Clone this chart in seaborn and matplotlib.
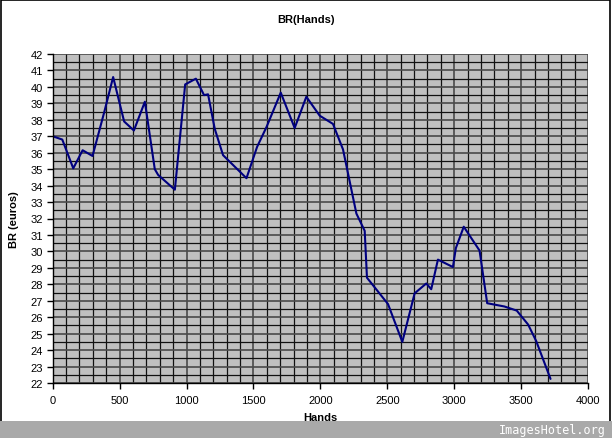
import matplotlib
matplotlib.use("Agg")
import matplotlib.pyplot as plt
import seaborn as sns
import pandas as pd
import numpy as np
from matplotlib.patches import Rectangle
from matplotlib.ticker import MultipleLocator

hands = [0, 72, 154, 224, 298, 385, 452, 534, 607, 689, 763, 788, 913, 990,
         1070, 1131, 1161, 1211, 1273, 1448, 1527, 1597, 1704, 1808, 1895,
         1995, 2094, 2169, 2269, 2331, 2348, 2505, 2612, 2704, 2791, 2828,
         2878, 2990, 3012, 3071, 3189, 3246, 3375, 3467, 3552, 3612, 3719]
br = [37.0, 36.8, 35.05, 36.15, 35.8, 38.45, 40.6, 37.9, 37.35, 39.1, 35.0,
      34.65, 33.75, 40.15, 40.5, 39.5, 39.55, 37.45, 35.85, 34.45, 36.35,
      37.55, 39.65, 37.5, 39.4, 38.25, 37.75, 36.2, 32.3, 31.25, 28.4, 26.8,
      24.5, 27.45, 28.05, 27.7, 29.5, 29.05, 30.2, 31.5, 30.05, 26.85, 26.65,
      26.4, 25.55, 24.55, 22.25]

df = pd.DataFrame({"Hands": hands, "BR": br})

sns.set_theme(style="white")
plt.rcParams["font.family"] = ["Liberation Sans", "DejaVu Sans"]
plt.rcParams["text.color"] = "black"
plt.rcParams["axes.labelcolor"] = "black"
plt.rcParams["xtick.color"] = "black"
plt.rcParams["ytick.color"] = "black"

fig = plt.figure(figsize=(6.12, 4.39), dpi=100)
fig.patch.set_facecolor("white")
ax = fig.add_axes([0.086, 0.1253, 0.875, 0.7494])
ax.set_facecolor("#C0C0C0")

sns.lineplot(data=df, x="Hands", y="BR", ax=ax, color="#000080", linewidth=1.5,
             sort=False, estimator=None)

ax.set_xlim(0, 4000)
ax.set_ylim(22, 42)
ax.xaxis.set_major_locator(MultipleLocator(500))
ax.xaxis.set_minor_locator(MultipleLocator(100))
ax.yaxis.set_major_locator(MultipleLocator(1))
ax.yaxis.set_minor_locator(MultipleLocator(0.5))
ax.grid(True, which="major", color="#4a4a4a", linewidth=1.2)
ax.grid(True, which="minor", color="#111111", linewidth=0.9)
ax.set_axisbelow(True)

for s in ["top", "right"]:
    ax.spines[s].set_visible(False)
for s in ["left", "bottom"]:
    ax.spines[s].set_color("black")
    ax.spines[s].set_linewidth(1.0)

ax.tick_params(axis="both", which="major", direction="out", length=4, width=1,
               color="black", labelcolor="black", labelsize=8, pad=3,
               bottom=True, left=True)
ax.tick_params(axis="both", which="minor", length=0)
ax.tick_params(axis="x", pad=5)

ax.set_xlabel("Hands", fontsize=8, fontweight="bold", labelpad=5, color="black")
ax.set_ylabel("BR (euros)", fontsize=8, fontweight="bold", labelpad=8, color="black")
fig.text(0.5, 0.954, "BR(Hands)", ha="center", va="center", fontsize=8,
         fontweight="bold", color="black")

# outer frame and bottom bar
fig.patches.append(Rectangle((0.0015, 0.035), 0.996, 0.962, transform=fig.transFigure,
                             fill=False, edgecolor="black", linewidth=1.2))
fig.patches.append(Rectangle((0, 0), 1, 0.039, transform=fig.transFigure,
                             facecolor="#A9A9A9", edgecolor="none"))
fig.text(0.99, 0.02, "ImagesHotel.org", ha="right", va="center", fontsize=8.5,
         color="white", family=["DejaVu Sans Mono"])

fig.savefig("out.png", dpi=100)
